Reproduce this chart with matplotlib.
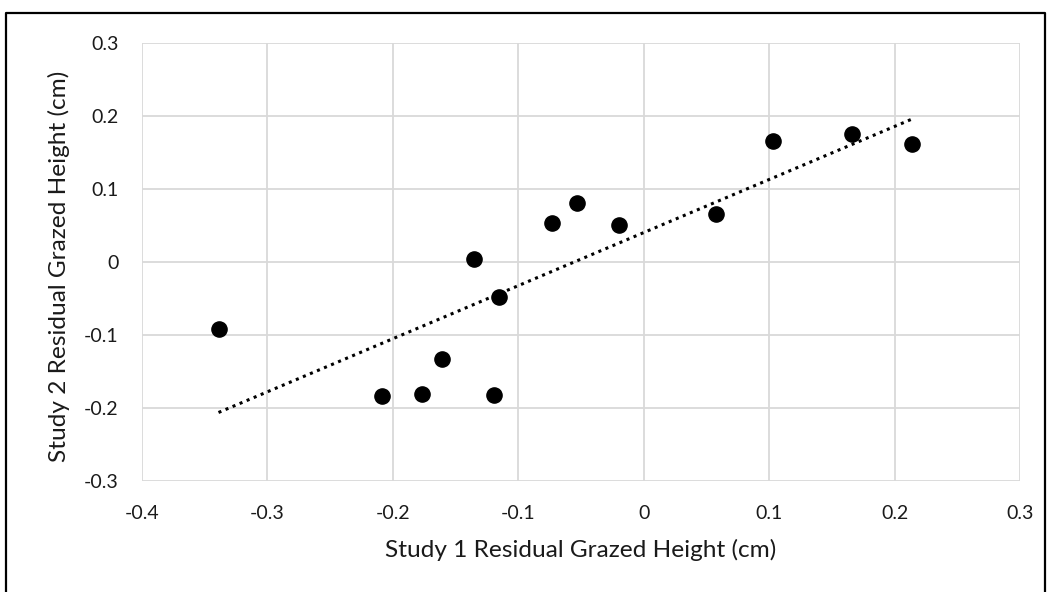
import matplotlib
matplotlib.use("Agg")
import matplotlib.pyplot as plt
from matplotlib.lines import Line2D
import numpy as np

# residual grazed heights
study1 = [-0.339, -0.209, -0.177, -0.161, -0.119, -0.135, -0.115,
          -0.073, -0.053, -0.020, 0.058, 0.103, 0.166, 0.214]
study2 = [-0.092, -0.184, -0.181, -0.133, -0.182, 0.004, -0.048,
          0.054, 0.081, 0.051, 0.066, 0.166, 0.175, 0.162]

xticks = [-0.4, -0.3, -0.2, -0.1, 0, 0.1, 0.2, 0.3]
yticks = [-0.3, -0.2, -0.1, 0, 0.1, 0.2, 0.3]

plt.rcParams['font.family'] = ['Lato', 'DejaVu Sans']

W, H = 1051, 592
fig = plt.figure(figsize=(W/100, H/100), dpi=100)
ax = fig.add_axes([142/W, 1 - 481/H, (1020-142)/W, (481-43)/H])

x = np.array(study1)
y = np.array(study2)
slope, intercept = np.polyfit(x, y, 1)
xl = np.array([x.min(), x.max()])
ax.plot(xl, slope*xl + intercept, color='black', linestyle=(0, (1, 1.5)), lw=2.2, zorder=3)
ax.scatter(x, y, s=120, color='black', zorder=4)

ax.set_xlim(-0.4, 0.3)
ax.set_ylim(-0.3, 0.3)
ax.set_xticks(xticks)
ax.set_yticks(yticks)
ax.set_xticklabels(['0' if t == 0 else f'{t:g}' for t in xticks])
ax.set_yticklabels(['0' if t == 0 else f'{t:g}' for t in yticks])
ax.tick_params(length=0, labelsize=14, colors='#1a1a1a')
ax.tick_params(axis='y', pad=17)
ax.tick_params(axis='x', pad=17)
ax.grid(True, color='#d9d9d9', lw=1.3)
ax.set_axisbelow(True)
for s in ax.spines.values():
    s.set_visible(False)

xlab = ax.set_xlabel('Study 1 Residual Grazed Height (cm)', fontsize=16, color='#1a1a1a', va='center')
ylab = ax.set_ylabel('Study 2 Residual Grazed Height (cm)', fontsize=16, color='#1a1a1a', va='center')
ax.xaxis.set_label_coords(0.5, (481 - 550) / 438)
ax.yaxis.set_label_coords((59 - 142) / 878, 0.49)

# scale axis titles to the width they take in the original
fig.canvas.draw()
r = fig.canvas.get_renderer()
for lab, target, horiz in [(xlab, 392, True), (ylab, 393, False)]:
    bb = lab.get_window_extent(r)
    size = bb.width if horiz else bb.height
    lab.set_fontsize(lab.get_fontsize() * target / size)

# chart frame: left, top and right edges (bottom is cut off in the original)
left, right, top = 6/W, 1045/W, 1 - 13/H
fig.lines.append(Line2D([left, left, right, right], [0, top, top, 0],
                        transform=fig.transFigure, color='black', lw=1.6))

fig.savefig('out.png', dpi=100)
